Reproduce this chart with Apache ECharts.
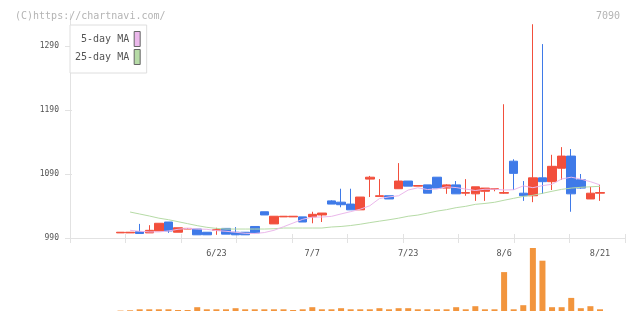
<!DOCTYPE html>
<html><head><meta charset="utf-8">
<script src="https://cdn.jsdelivr.net/npm/echarts@6/dist/echarts.min.js"></script>
<style>html,body{margin:0;padding:0;background:#fff}#c{width:640px;height:311px}</style>
</head><body><div id="c"></div>
<script>
const dates = ['6/9','6/10','6/11','6/12','6/13','6/16','6/17','6/18','6/19','6/20',
  '6/23','6/24','6/25','6/26','6/27','6/30','7/1','7/2','7/3','7/4',
  '7/7','7/8','7/9','7/10','7/11','7/14','7/15','7/16','7/17','7/22',
  '7/23','7/24','7/25','7/28','7/29','7/30','7/31','8/1','8/4','8/5',
  '8/6','8/7','8/8','8/12','8/13','8/14','8/15','8/18','8/19','8/20','8/21'];
const opens  = [998,998,1000,998,1001,1015,999,1004,1004,999,1002,1005,999,999,1008,1031,1012,1023,1023,1023,
  1023,1026,1048,1046,1043,1034,1082,1055,1056,1067,1079,1071,1073,1085,1068,1073,1060,1059,1063,1066,
  1060,1110,1060,1056,1084,1078,1099,1118,1081,1051,1060];
const closes = [999,999,997,1002,1013,1001,1006,1005,995,995,1003,996,995,995,998,1026,1024,1024,1024,1015,
  1027,1029,1043,1042,1034,1054,1085,1056,1051,1079,1071,1072,1060,1068,1073,1059,1061,1070,1068,1067,
  1061,1091,1056,1084,1078,1102,1118,1059,1068,1060,1061];
const lows   = [998,998,997,998,1001,998,999,1004,995,995,995,996,995,995,998,1026,1012,1023,1023,1015,
  1013,1015,1043,1038,1034,1034,1054,1055,1051,1067,1071,1071,1060,1068,1059,1059,1056,1048,1048,1063,
  1059,1065,1048,1046,1059,1065,1081,1031,1067,1051,1048];
const highs  = [999,999,1012,1010,1013,1015,1006,1005,1004,999,1006,1005,1007,999,1008,1031,1024,1024,1024,1023,
  1031,1029,1049,1067,1067,1054,1087,1082,1056,1107,1079,1072,1073,1085,1074,1079,1082,1070,1068,1067,
  1199,1113,1079,1324,1293,1120,1132,1129,1090,1070,1073];
const ma5  = ['-',1002,1000.5,999.5,999.5,1001,1003.6,1005,1004,1003.6,1001.5,1000.5,999,997.3,997,998.5,1002,1007.6,1013.4,1019.2,
  1022.6,1022.8,1023.8,1027.6,1031.2,1035,1040.4,1051.6,1054.2,1056,1065,1068.4,1065.8,1066.6,1070,1068.8,1066.4,1064.2,1066.2,1066.2,
  1065,1065.4,1071.4,1068.6,1071.8,1074,1082.2,1085,1082,1078,1073];
const ma25 = ['-',1030.6,1027.5,1024.4,1021,1018.6,1015.5,1012.4,1009.3,1006.7,1005,1004,1004,1004,1004,1004,1004.5,1005.6,1005.6,1005.6,
  1005.6,1005.6,1007.2,1008,1009.5,1011.5,1014,1016.3,1018.5,1021,1024,1025.8,1028.8,1032,1034.3,1037.4,1039.5,1042.6,1044,1045.8,
  1049,1052,1055,1056.7,1059.8,1063,1066,1068,1069.2,1070,1070.8];
const volumes = [400,700,1700,1700,1700,1700,1000,1000,3800,1700,1700,1700,2800,1700,1700,1700,1700,1700,1000,1700,
  3800,1700,1700,2800,1700,1700,1700,2800,1700,2800,2800,1700,1700,1700,1700,3800,1700,4800,1700,1700,
  38900,1700,5800,63000,50300,3800,3800,13100,2800,4800,1700];
const xLabelDates = ['6/23','7/7','7/23','8/6','8/21'];
const yTicks = [990,1090,1190,1290];

const candleData = dates.map((d, i) => [opens[i], closes[i], lows[i], highs[i]]);
const FONT = 'DejaVu Sans Mono';
const UP = '#f24f3c', DOWN = '#3f7ae8', PINK = '#ebb8eb', GREEN = '#b6dba6', ORANGE = '#f2953d', AX = '#e2e2e2';

const chart = echarts.init(document.getElementById('c'), null, {renderer: 'canvas'});
chart.setOption({
  animation: false,
  backgroundColor: '#fff',
  title: [
    {text: '(C)https://chartnavi.com/', left: 10, top: 6, textStyle: {fontFamily: FONT, fontSize: 10, fontWeight: 'normal', color: '#b4b4b4'}},
    {text: '7090', right: 15, top: 6, textStyle: {fontFamily: FONT, fontSize: 10, fontWeight: 'normal', color: '#b4b4b4'}}
  ],
  legend: {
    data: ['5-day MA', '25-day MA'], orient: 'vertical', left: 70, top: 25,
    icon: 'rect', itemWidth: 6, itemHeight: 15, itemGap: 2, align: 'right',
    padding: [6, 6, 8, 5], backgroundColor: '#fff', borderColor: '#dedede', borderWidth: 1,
    selectedMode: false,
    textStyle: {fontFamily: FONT, fontSize: 10, color: '#555'},
    itemStyle: {borderColor: '#666', borderWidth: 1}
  },
  grid: [
    {left: 115.7, right: 35.2, top: 14, bottom: 73},
    {left: 115.7, right: 35.2, top: 248, bottom: 0},
    {left: 70, right: 15, top: 14, bottom: 73}
  ],
  xAxis: [
    {type: 'category', gridIndex: 0, data: dates, boundaryGap: true,
      axisLine: {show: false}, axisTick: {show: false}, splitLine: {show: false},
      axisLabel: {interval: (i, v) => xLabelDates.includes(v), margin: 11, fontFamily: FONT, fontSize: 8.5, color: '#555'}},
    {type: 'category', gridIndex: 1, data: dates, boundaryGap: true, show: false},
    {type: 'value', gridIndex: 2, min: 0, max: 10, interval: 1, position: 'bottom',
      axisLine: {show: true, lineStyle: {color: AX}}, axisTick: {show: true, length: 5, lineStyle: {color: AX}},
      axisLabel: {show: false}, splitLine: {show: false}},
    {type: 'value', gridIndex: 2, min: 0, max: 10, interval: 1, position: 'bottom',
      axisLine: {show: false}, axisTick: {show: true, inside: true, length: 4, lineStyle: {color: AX}},
      axisLabel: {show: false}, splitLine: {show: false}}
  ],
  yAxis: [
    {type: 'value', gridIndex: 0, min: 990, max: 1340, show: false},
    {type: 'value', gridIndex: 1, min: 0, max: 63000, show: false},
    {type: 'value', gridIndex: 2, min: 990, max: 1340, position: 'left',
      axisLine: {show: true, lineStyle: {color: AX}},
      axisTick: {show: true, length: 5, customValues: yTicks, lineStyle: {color: AX}},
      axisLabel: {customValues: yTicks, formatter: v => String(v), margin: 11, fontFamily: FONT, fontSize: 8, color: '#555'},
      splitLine: {show: false}},
    {type: 'value', gridIndex: 2, min: 990, max: 1340, position: 'left',
      axisLine: {show: false},
      axisTick: {show: true, inside: true, length: 2, customValues: yTicks, lineStyle: {color: AX}},
      axisLabel: {show: false}, splitLine: {show: false}}
  ],
  series: [
    {type: 'line', name: '25-day MA', xAxisIndex: 0, yAxisIndex: 0, data: ma25, showSymbol: false, symbol: 'none',
      lineStyle: {width: 1, color: GREEN}, itemStyle: {color: GREEN}},
    {type: 'line', name: '5-day MA', xAxisIndex: 0, yAxisIndex: 0, data: ma5, showSymbol: false, symbol: 'none',
      lineStyle: {width: 1, color: PINK}, itemStyle: {color: PINK}},
    {type: 'candlestick', name: 'price', xAxisIndex: 0, yAxisIndex: 0, data: candleData, barWidth: 9,
      itemStyle: {color: UP, color0: DOWN, borderColor: UP, borderColor0: DOWN, borderWidth: 1}},
    {type: 'bar', name: 'volume', xAxisIndex: 1, yAxisIndex: 1, data: volumes, barWidth: 6,
      itemStyle: {color: ORANGE}}
  ]
});
</script>
</body></html>
